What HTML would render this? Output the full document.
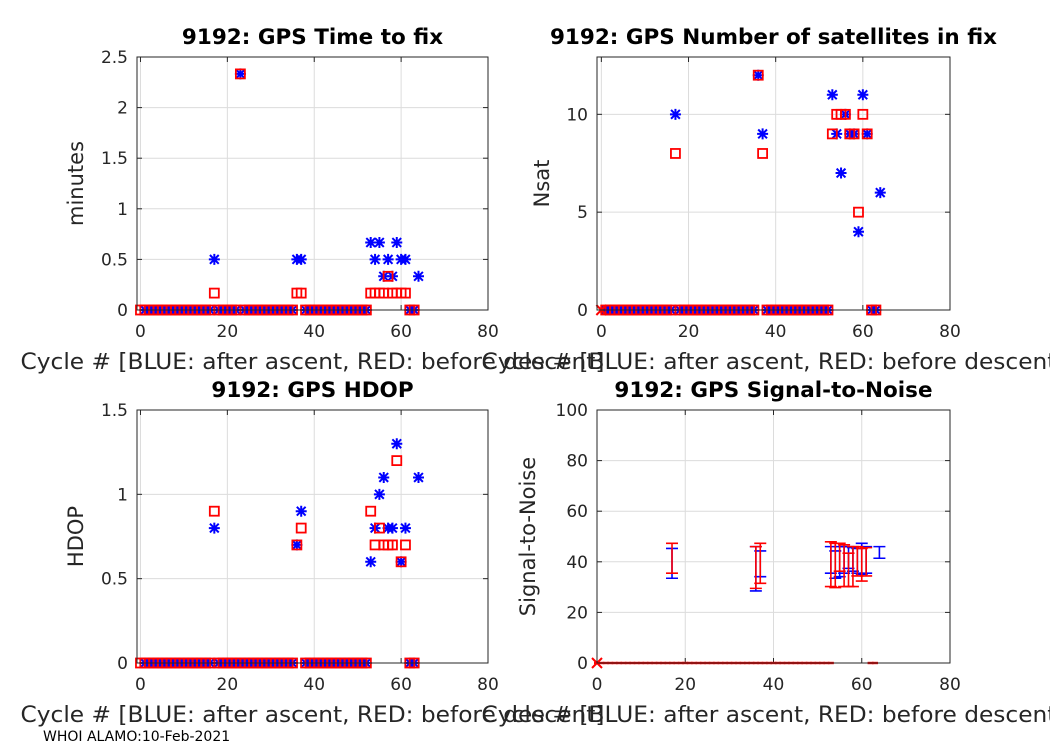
<!DOCTYPE html>
<html><head><meta charset="utf-8"><style>
html,body{margin:0;padding:0;background:#fff;}
svg{display:block;font-family:"DejaVu Sans","Liberation Sans",sans-serif;}
</style></head><body>
<svg id="fig" width="1050" height="750" viewBox="0 0 1050 750">
<text x="43" y="741" font-size="14" fill="#000">WHOI ALAMO:10-Feb-2021</text>
</svg>
<script>
const cycles = [0,1,2,3,4,5,6,7,8,9,10,11,12,13,14,15,16,17,18,19,20,21,22,23,24,25,26,27,28,29,30,31,32,33,34,35,36,37,38,39,40,41,42,43,44,45,46,47,48,49,50,51,52,53,54,55,56,57,58,59,60,61,62,63,64];
const minutesBlue = [null,0,0,0,0,0,0,0,0,0, 0,0,0,0,0,0,0,0.5,0,0, 0,0,0,2.333,0,0,0,0,0,0, 0,0,0,0,0,0,0.5,0.5,0,0, 0,0,0,0,0,0,0,0,0,0, 0,0,0,0.667,0.5,0.667,0.333,0.5,0.333,0.667, 0.5,0.5,0,0,0.333];
const minutesRed = [0,0,0,0,0,0,0,0,0,0, 0,0,0,0,0,0,0,0.167,0,0, 0,0,0,2.333,0,0,0,0,0,0, 0,0,0,0,0,0,0.167,0.167,0,0, 0,0,0,0,0,0,0,0,0,0, 0,0,0,0.167,0.167,0.167,0.167,0.333,0.167,0.167, 0.167,0.167,0,0,null];
const nsatBlue = [null,0,0,0,0,0,0,0,0,0, 0,0,0,0,0,0,0,10,0,0, 0,0,0,0,0,0,0,0,0,0, 0,0,0,0,0,0,12,9,0,0, 0,0,0,0,0,0,0,0,0,0, 0,0,0,11,9,7,10,9,9,4, 11,9,0,0,6];
const nsatRed = [0,0,0,0,0,0,0,0,0,0, 0,0,0,0,0,0,0,8,0,0, 0,0,0,0,0,0,0,0,0,0, 0,0,0,0,0,0,12,8,0,0, 0,0,0,0,0,0,0,0,0,0, 0,0,0,9,10,10,10,9,9,5, 10,9,0,0,null];
const hdopBlue = [null,0,0,0,0,0,0,0,0,0, 0,0,0,0,0,0,0,0.8,0,0, 0,0,0,0,0,0,0,0,0,0, 0,0,0,0,0,0,0.7,0.9,0,0, 0,0,0,0,0,0,0,0,0,0, 0,0,0,0.6,0.8,1.0,1.1,0.8,0.8,1.3, 0.6,0.8,0,0,1.1];
const hdopRed = [0,0,0,0,0,0,0,0,0,0, 0,0,0,0,0,0,0,0.9,0,0, 0,0,0,0,0,0,0,0,0,0, 0,0,0,0,0,0,0.7,0.8,0,0, 0,0,0,0,0,0,0,0,0,0, 0,0,0,0.9,0.7,0.8,0.7,0.7,0.7,1.2, 0.6,0.7,0,0,null];
const snrCycles = [17,36,37,53,54,55,56,57,58,59,60,61,64];
const snrBlueMin = [33.5,28.5,34.1,35.5,33.5,34.1,35.5,37.4,36.3,35.5,35.1,35.5,41.4];
const snrBlueMax = [45.3,46.0,44.3,46.0,44.3,46.0,46.0,46.0,45.6,45.3,47.3,46.0,46.0];
const snrRedMin = [35.5,29.5,31.5,30.2,29.8,36.3,30.2,30.2,30.2,34.4,32.4,34.4,null];
const snrRedMax = [47.3,46.0,47.3,47.9,47.3,47.3,46.7,43.4,46.0,46.0,45.3,45.6,null];
const snrZeroCycles = [0,1,2,3,4,5,6,7,8,9,10,11,12,13,14,15,16,17,18,19,20,21,22,23,24,25,26,27,28,29,30,31,32,33,34,35,36,37,38,39,40,41,42,43,44,45,46,47,48,49,50,51,52,53,62,63];
const xTicks = [0,20,40,60,80];
const minutesTicks = [0,0.5,1,1.5,2,2.5];
const nsatTicks = [0,5,10];
const hdopTicks = [0,0.5,1,1.5];
const snrTicks = [0,20,40,60,80,100];

const NS='http://www.w3.org/2000/svg';
const svg=document.getElementById('fig');
function mk(tag,attrs,parent){const e=document.createElementNS(NS,tag);for(const k in attrs)e.setAttribute(k,attrs[k]);(parent||svg).appendChild(e);return e;}

function panel(p){
  const g=mk('g',{});
  
  
  const sx=v=>p.l+(v-p.xmin)/(p.xmax-p.xmin)*(p.r-p.l);
  const sy=v=>p.b-(v-p.ymin)/(p.ymax-p.ymin)*(p.b-p.t);
  mk('rect',{x:p.l,y:p.t,width:p.r-p.l,height:p.b-p.t,fill:'#fff'},g);
  xTicks.forEach(v=>{
    const x=sx(v);
    if(v>p.xmin&&v<p.xmax) mk('line',{x1:x,x2:x,y1:p.t,y2:p.b,stroke:'#dcdcdc','stroke-width':1},g);
    mk('line',{x1:x,x2:x,y1:p.b,y2:p.b-5,stroke:'#262626'},g);
    mk('line',{x1:x,x2:x,y1:p.t,y2:p.t+5,stroke:'#262626'},g);
    const t=mk('text',{x:x,y:p.b+27,'font-size':17,'text-anchor':'middle',fill:'#262626'},g);
    t.textContent=v;
    
    
  });
  p.yt.forEach(v=>{
    const y=sy(v);
    if(v>p.ymin&&v<p.ymax) mk('line',{x1:p.l,x2:p.r,y1:y,y2:y,stroke:'#dcdcdc','stroke-width':1},g);
    mk('line',{x1:p.l,x2:p.l+5,y1:y,y2:y,stroke:'#262626'},g);
    mk('line',{x1:p.r,x2:p.r-5,y1:y,y2:y,stroke:'#262626'},g);
    const t=mk('text',{x:p.l-9,y:y+6,'font-size':17,'text-anchor':'end',fill:'#262626'},g);
    t.textContent=v;
    
    
  });
  const cx=(p.l+p.r)/2, cy=(p.t+p.b)/2;
  const tt=mk('text',{x:cx,y:p.t-13,'font-size':21.5,'font-weight':'bold','text-anchor':'middle',fill:'#000'},g);
  tt.textContent=p.title;
  
  
  const xl=mk('text',{x:cx,y:p.b+59,'font-size':22,'text-anchor':'middle',fill:'#262626',textLength:584,lengthAdjust:'spacingAndGlyphs'},g);
  xl.textContent='Cycle #  [BLUE: after ascent, RED: before descent]';
  
  
  const yl=mk('text',{x:0,y:0,'font-size':21,'text-anchor':'middle',fill:'#262626',transform:`translate(${p.yx},${cy}) rotate(-90)`},g);
  yl.textContent=p.ylabel;
  
  
  const marks=mk('g',{},g);
  p.draw(marks,sx,sy);
  mk('rect',{x:p.l,y:p.t,width:p.r-p.l,height:p.b-p.t,fill:'none',stroke:'#262626','stroke-width':1},g);
}

function star(g,x,y){
  const r=5.5, d=r*0.8;
  const e=mk('path',{d:`M${x-r} ${y}H${x+r}M${x} ${y-r}V${y+r}M${x-d} ${y-d}L${x+d} ${y+d}M${x-d} ${y+d}L${x+d} ${y-d}`,stroke:'#0000ff','stroke-width':2,fill:'none'},g);
  
  
}
function sq(g,x,y){
  const e=mk('rect',{x:x-4.5,y:y-4.5,width:9,height:9,stroke:'#ff0000','stroke-width':1.8,fill:'none'},g);
  
  
}
function xm(g,x,y){
  const e=mk('path',{d:`M${x-5} ${y-5}L${x+5} ${y+5}M${x-5} ${y+5}L${x+5} ${y-5}`,stroke:'#ff0000','stroke-width':2},g);
  
  
}
function scatter(blue,red,xZero){
  return (g,sx,sy)=>{
    cycles.forEach((c,i)=>{ if(blue[i]!==null) star(g,sx(c),sy(blue[i])); });
    cycles.forEach((c,i)=>{ if(red[i]!==null){ if(xZero&&c===0) xm(g,sx(c),sy(red[i])); else sq(g,sx(c),sy(red[i])); } });
  };
}
function ebar(g,x,y1,y2,col,name){
  const w=6;
  const e=mk('path',{d:`M${x} ${y1}V${y2}M${x-w} ${y1}H${x+w}M${x-w} ${y2}H${x+w}`,stroke:col,'stroke-width':1.6,fill:'none'},g);
  
  
}

panel({name:'time-to-fix-panel',l:137,r:488,t:57,b:310,xmin:-0.8,xmax:80,ymin:0,ymax:2.5,yt:minutesTicks,
  title:'9192: GPS Time to fix',ylabel:'minutes',yx:83,draw:scatter(minutesBlue,minutesRed,false)});
panel({name:'nsat-panel',l:597,r:950,t:57,b:310,xmin:-1,xmax:80,ymin:0,ymax:12.93,yt:nsatTicks,
  title:'9192: GPS Number of satellites in fix',ylabel:'Nsat',yx:549,draw:scatter(nsatBlue,nsatRed,true)});
panel({name:'hdop-panel',l:137,r:488,t:410,b:663,xmin:-0.8,xmax:80,ymin:0,ymax:1.5,yt:hdopTicks,
  title:'9192: GPS HDOP',ylabel:'HDOP',yx:83,draw:scatter(hdopBlue,hdopRed,false)});
panel({name:'snr-panel',l:597,r:950,t:410,b:663,xmin:0,xmax:80,ymin:0,ymax:100,yt:snrTicks,
  title:'9192: GPS Signal-to-Noise',ylabel:'Signal-to-Noise',yx:535,draw:(g,sx,sy)=>{
    snrZeroCycles.forEach(c=>{
      const e=mk('line',{x1:sx(c)-3,x2:sx(c)+3,y1:sy(0),y2:sy(0),stroke:'#ff0000','stroke-width':2.4},g);
      
      
    });
    xm(g,sx(0),sy(0));
    snrCycles.forEach((c,i)=>ebar(g,sx(c),sy(snrBlueMin[i]),sy(snrBlueMax[i]),'#0000ff','snr-blue-errorbar'));
    snrCycles.forEach((c,i)=>{ if(snrRedMin[i]!==null) ebar(g,sx(c),sy(snrRedMin[i]),sy(snrRedMax[i]),'#ff0000','snr-red-errorbar'); });
  }});
</script>
</body></html>
